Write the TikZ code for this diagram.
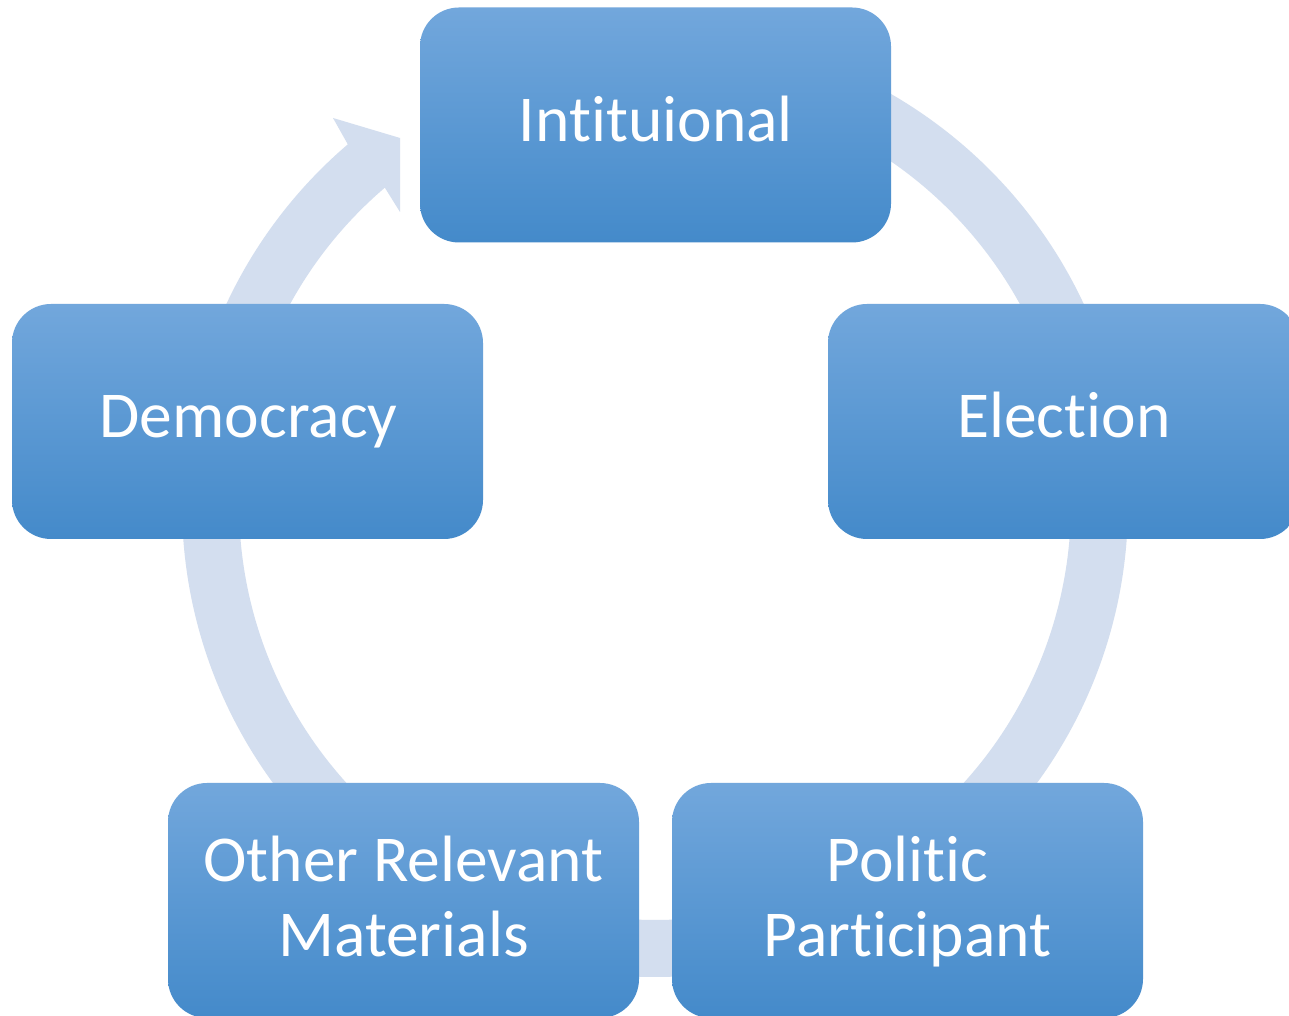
\documentclass[tikz,border=0pt]{standalone}
\usepackage{fontspec}
\setmainfont{Carlito}[Ligatures={NoCommon}]
\usetikzlibrary{calc}
\definecolor{ringc}{RGB}{211,222,239}
\definecolor{boxtop}{RGB}{114,167,220}
\definecolor{boxbot}{RGB}{68,138,202}
\tikzset{
  stagebox/.style={rectangle, rounded corners=39pt, minimum width=471pt, minimum height=235pt,
    inner sep=0pt, top color=boxtop, bottom color=boxbot, draw=none},
  stagetext/.style={anchor=base, text=white, inner sep=0pt, font=\fontsize{65.5}{75}\selectfont}
}
\begin{document}
\begin{tikzpicture}[x=1pt,y=1pt]
\useasboundingbox (0,0) rectangle (1289,1016);
\clip (0,0) rectangle (1289,1016);
\fill[white] (0,0) rectangle (1289,1016);
\coordinate (C) at (655,512);
% cycle arrow
\fill[ringc] ($(C)+(130.5:416)$) arc[start angle=130.5, end angle=450, radius=416]
  -- ($(C)+(90:473)$) arc[start angle=90, end angle=-229.5, radius=473]
  -- (333,898) -- (400,878) -- (400,804) -- cycle;
% boxes
\node[stagebox] (inst) at (655.5,891) {};
\node[stagebox] (demo) at (247.5,594.5) {};
\node[stagebox] (elec) at (1063.5,594.5) {};
\node[stagebox] (other) at (403.5,115.5) {};
\node[stagebox] (polit) at (907.5,115.5) {};
% labels
\node[stagetext] (tinst) at (656,874) {Intituional};
\node[stagetext] (tdemo) at (248.5,578) {Democracy};
\node[stagetext] (telec) at (1064,578) {Election};
\node[stagetext] (tother1) at (403.5,134) {Other Relevant};
\node[stagetext] (tother2) at (403.5,59) {Materials};
\node[stagetext] (tpolit1) at (907.5,134) {Politic};
\node[stagetext] (tpolit2) at (907.5,59) {Participant};
\end{tikzpicture}
\end{document}
